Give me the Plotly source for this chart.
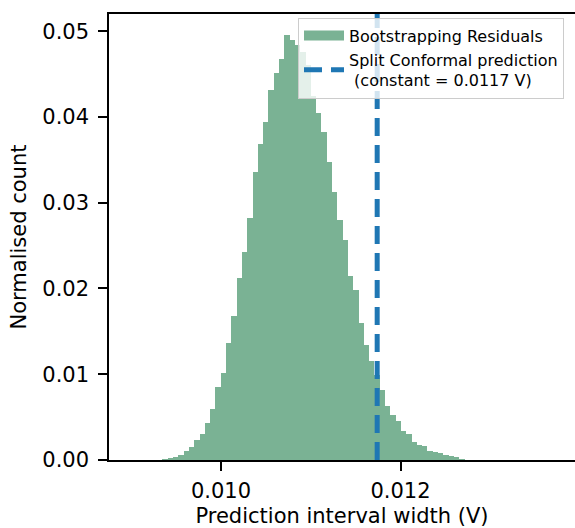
import plotly.graph_objects as go

# ---- data ----
bin_start = 0.009348      # left edge of first histogram bin (V)
bin_width = 5.905e-5      # bin width (V)
normalised_counts = [
    0.00005, 0.0002, 0.0004, 0.0006, 0.0011, 0.0015, 0.0023, 0.0030, 0.0043, 0.0060,
    0.0085, 0.0101, 0.0137, 0.0168, 0.0212, 0.0243, 0.0282, 0.0336, 0.0369, 0.0394,
    0.0431, 0.0451, 0.0468, 0.0495, 0.0490, 0.0484, 0.0476, 0.0460, 0.0424, 0.0405,
    0.0383, 0.0347, 0.0312, 0.0280, 0.0257, 0.0214, 0.0198, 0.0160, 0.0134, 0.0115,
    0.0099, 0.0082, 0.0063, 0.0053, 0.0045, 0.0034, 0.0030, 0.0021, 0.0018, 0.0016,
    0.00105, 0.00093, 0.00076, 0.00063, 0.00052, 0.0004, 0.00005,
]
conformal_constant = 0.01174
x_tick_vals = [0.010, 0.012]
x_tick_text = ["0.010", "0.012"]
y_tick_vals = [0.00, 0.01, 0.02, 0.03, 0.04, 0.05]
y_tick_text = ["0.00", "0.01", "0.02", "0.03", "0.04", "0.05"]
x_range = [0.008752, 0.013944]
y_range = [0.0, 0.052]

bin_centers = [bin_start + (i + 0.5) * bin_width for i in range(len(normalised_counts))]

FONT = "DejaVu Sans, Liberation Sans, sans-serif"
BAR_COLOR = "rgb(122,178,148)"
LINE_COLOR = "#1f77b4"

fig = go.Figure()
fig.add_trace(go.Bar(
    x=bin_centers, y=normalised_counts, width=bin_width,
    marker=dict(color=BAR_COLOR, line=dict(width=0)),
    name="Bootstrapping Residuals", showlegend=False, legendgroup="hist",
))
# legend-only entry giving the wide rectangular patch handle of the histogram
fig.add_trace(go.Scatter(
    x=[None], y=[None], mode="lines",
    line=dict(color=BAR_COLOR, width=10),
    name="Bootstrapping Residuals", legendgroup="hist",
))
fig.add_trace(go.Scatter(
    x=[conformal_constant, conformal_constant], y=[y_range[0], y_range[1]],
    mode="lines",
    line=dict(color=LINE_COLOR, width=5, dash="18px,9px"),
    name="Split Conformal prediction<br>\u00a0(constant = 0.0117 V)",
    legendgroup="line",
))

axis_common = dict(
    showgrid=False, zeroline=False, showline=True, linecolor="black", linewidth=1.5,
    ticks="outside", ticklen=9, tickwidth=1.5, tickcolor="black",
    tickfont=dict(family=FONT, size=21, color="black"),
)

fig.update_layout(
    width=575, height=528,
    margin=dict(l=109, r=0, t=14, b=68),
    paper_bgcolor="white", plot_bgcolor="white",
    bargap=0, barmode="overlay",
    font=dict(family=FONT, color="black"),
    xaxis=dict(
        range=x_range, tickvals=x_tick_vals, ticktext=x_tick_text, mirror=True,
        title=dict(text="Prediction interval width (V)", font=dict(family=FONT, size=21), standoff=9),
        ticklabelstandoff=2,
        **axis_common,
    ),
    yaxis=dict(
        range=y_range, tickvals=y_tick_vals, ticktext=y_tick_text,
        title=dict(text="Normalised count", font=dict(family=FONT, size=21), standoff=10),
        ticklabelstandoff=5,
        **axis_common,
    ),
    legend=dict(
        x=0.4056, y=0.992, xanchor="left", yanchor="top",
        bgcolor="rgba(255,255,255,0.8)", bordercolor="#cccccc", borderwidth=1,
        font=dict(family=FONT, size=16, color="black"),
        tracegroupgap=0, itemwidth=40,
    ),
    showlegend=True,
)

fig.write_html("out.html")
